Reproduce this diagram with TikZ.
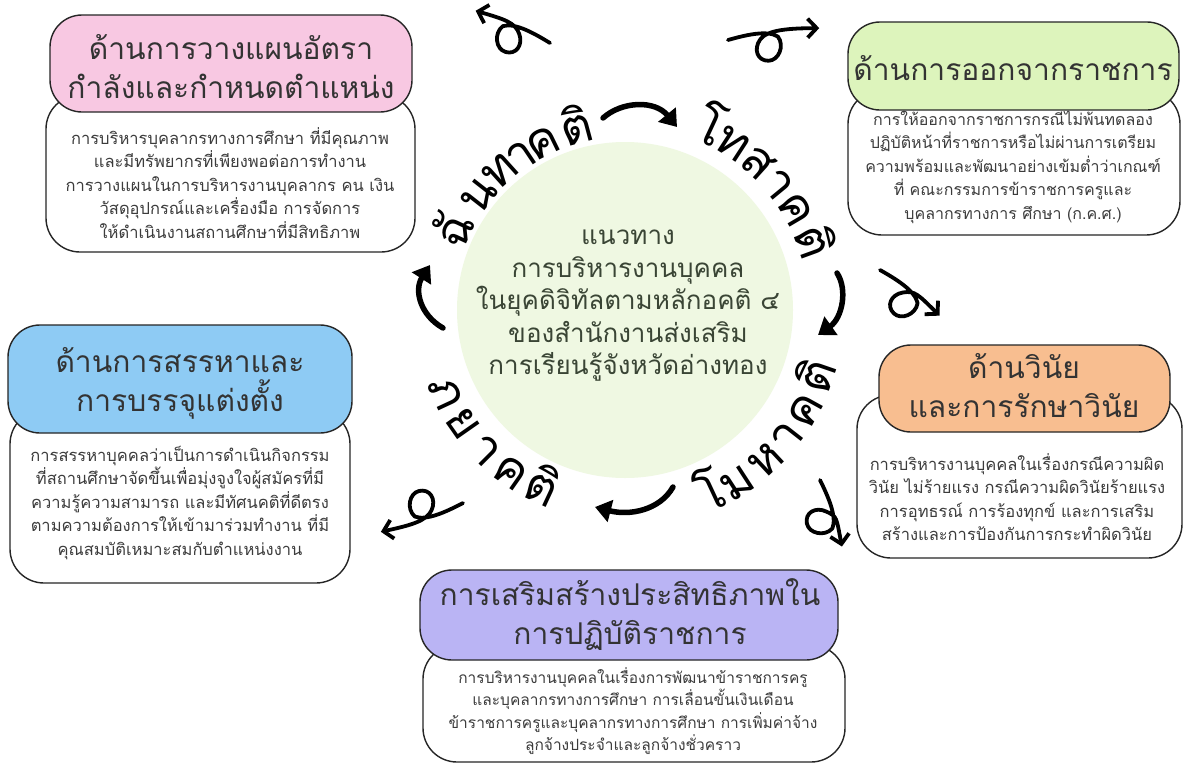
\documentclass[tikz,border=0pt]{standalone}
\usepackage{fontspec}
\setmainfont[Script=Thai]{Loma}
\usetikzlibrary{arrows.meta}
\definecolor{pinkh}{HTML}{F8C8E2}
\definecolor{greenh}{HTML}{DDF4BC}
\definecolor{blueh}{HTML}{8ECBF4}
\definecolor{orangeh}{HTML}{F8BE90}
\definecolor{purpleh}{HTML}{BAB4F4}
\definecolor{centerfill}{HTML}{EFF8E2}
\definecolor{txtc}{HTML}{333333}
\definecolor{btxt}{HTML}{3C3C3C}
\definecolor{ctxt}{HTML}{3A4535}
\tikzset{
  headbox/.style={draw=black!85, line width=1.4pt, rounded corners=32pt, inner sep=0pt},
  bodybox/.style={draw=black!85, fill=white, line width=1.4pt, rounded corners=34pt, inner sep=0pt},
  headtxt/.style={text=txtc, font=\fontsize{30}{39}\selectfont, align=center, inner sep=0pt},
  bodytxt/.style={text=btxt, font=\fontsize{16.5}{23.5}\selectfont, align=center, inner sep=0pt},
  ctrtxt/.style={text=ctxt, font=\fontsize{26}{32.5}\selectfont, align=center, inner sep=0pt},
  lbl/.style={font=\fontsize{49}{49}\selectfont, anchor=base, inner sep=0pt},
  cyc/.style={line width=5.5pt, line cap=round, -{Triangle[length=16pt,width=22pt]}},
  loopar/.style={line width=3.8pt, line cap=round, line join=round, -{Straight Barb[length=9pt,width=19pt]}},
  looparrow/.pic={\draw[loopar] (0,0) .. controls (18,-3) and (40,-6) .. (50,2)
      .. controls (56,12) and (48,26) .. (38,25)
      .. controls (27,24) and (24,12) .. (32,3)
      .. controls (40,-6) and ({#1-30},-5) .. (#1,-2);}
}
\begin{document}
\begin{tikzpicture}[x=1pt,y=-1pt]
\useasboundingbox[fill=white] (0,0) rectangle (1184,769);

% hub circle
\node[circle, fill=centerfill, minimum size=336pt, inner sep=0pt] (hub) at (625,310) {};
\node[ctrtxt] (hubtxt) at (628,306) {แนวทาง\\การบริหารงานบุคคล\\ในยุคดิจิทัลตามหลักอคติ ๔\\ของสำนักงานส่งเสริม\\การเรียนรู้จังหวัดอ่างทอง};

% curved labels
\begin{scope}[shift={(625,310)}, yscale=-1]
  \node[lbl, rotate=65]  (ua1) at (155:172) {ฉั};
  \node[lbl, rotate=52]  (ua2) at (142:172) {น};
  \node[lbl, rotate=42]  (ua3) at (132:172) {ท};
  \node[lbl, rotate=34]  (ua4) at (124:172) {า};
  \node[lbl, rotate=26]  (ua5) at (116:172) {ค};
  \node[lbl, rotate=15]  (ua6) at (105:172) {ติ};
  \node[lbl, rotate=-25] (ub1) at (65:184) {โ};
  \node[lbl, rotate=-33] (ub2) at (57:184) {ท};
  \node[lbl, rotate=-42] (ub3) at (48:184) {ส};
  \node[lbl, rotate=-50.5] (ub4) at (39.5:184) {า};
  \node[lbl, rotate=-59.5] (ub5) at (30.5:184) {ค};
  \node[lbl, rotate=-70] (ub6) at (20:184) {ติ};
  \node[lbl, rotate=25]  (uc1) at (-65:220) {โ};
  \node[lbl, rotate=33]  (uc2) at (-57:220) {ม};
  \node[lbl, rotate=43]  (uc3) at (-47:220) {ห};
  \node[lbl, rotate=52]  (uc4) at (-38:220) {า};
  \node[lbl, rotate=61]  (uc5) at (-29:220) {ค};
  \node[lbl, rotate=71]  (uc6) at (-19:220) {ติ};
  \node[lbl, rotate=295] (ud1) at (205:212) {ภ};
  \node[lbl, rotate=305] (ud2) at (215:212) {ย};
  \node[lbl, rotate=315] (ud3) at (225:212) {า};
  \node[lbl, rotate=325] (ud4) at (235:212) {ค};
  \node[lbl, rotate=335] (ud5) at (245:212) {ติ};
\end{scope}

% cycle arrows
\coordinate (a1s) at (603,118); \coordinate (a1e) at (677,127);
\coordinate (a2s) at (837,273); \coordinate (a2e) at (818,335);
\coordinate (a3s) at (673,487); \coordinate (a3e) at (595,507);
\coordinate (a4s) at (443,328); \coordinate (a4e) at (430,265);
\draw[cyc] (a1s) .. controls (622,101) and (655,100) .. (a1e);
\draw[cyc] (a2s) .. controls (848,290) and (842,318) .. (a2e);
\draw[cyc] (a3s) .. controls (660,510) and (630,516) .. (a3e);
\draw[cyc] (a4s) .. controls (420,315) and (414,290) .. (a4e);

% loop arrows
\coordinate (tltail) at (550,43);
\coordinate (trtail) at (728,40);
\coordinate (rtail) at (880,270);
\coordinate (lrtail) at (820,480);
\coordinate (lltail) at (463,503);
\pic[rotate=158, yscale=-1] at (tltail) {looparrow=81};
\pic[rotate=6.2] at (trtail) {looparrow=92};
\pic[rotate=-39] at (rtail) {looparrow=75};
\pic[rotate=-73.4] at (lrtail) {looparrow=70};
\pic[rotate=-162] at (lltail) {looparrow=87};

% pink box
\node[bodybox, minimum width=369pt, minimum height=157pt] (pinkbody) at (230.5,173.5) {};
\node[headbox, fill=pinkh, minimum width=362pt, minimum height=97pt] (pinkhead) at (231,63.5) {};
\node[headtxt] (pinkht) at (231,67) {ด้านการวางแผนอัตรา\\กำลังและกำหนดตำแหน่ง};
\node[bodytxt] (pinkbt) at (230,183) {การบริหารบุคลากรทางการศึกษา ที่มีคุณภาพ\\และมีทรัพยากรที่เพียงพอต่อการทำงาน\\การวางแผนในการบริหารงานบุคลากร คน เงิน\\วัสดุอุปกรณ์และเครื่องมือ การจัดการ\\ให้ดำเนินงานสถานศึกษาที่มีสิทธิภาพ};

% green box
\node[bodybox, minimum width=332pt, minimum height=145pt] (greenbody) at (1014,162.5) {};
\node[headbox, fill=greenh, minimum width=331pt, minimum height=88pt] (greenhead) at (1013.5,66) {};
\node[headtxt] (greenht) at (1013,68) {ด้านการออกจากราชการ};
\node[bodytxt, font=\fontsize{16}{23.5}\selectfont] (greenbt) at (1013,167) {การให้ออกจากราชการกรณีไม่พ้นทดลอง\\ปฏิบัติหน้าที่ราชการหรือไม่ผ่านการเตรียม\\ความพร้อมและพัฒนาอย่างเข้มต่ำว่าเกณฑ์\\ที่ คณะกรรมการข้าราชการครูและ\\บุคลากรทางการ ศึกษา (ก.ค.ศ.)};

% blue box
\node[bodybox, minimum width=340pt, minimum height=173pt] (bluebody) at (180,496.5) {};
\node[headbox, fill=blueh, minimum width=344pt, minimum height=108pt] (bluehead) at (180,379) {};
\node[headtxt] (blueht) at (180,383) {ด้านการสรรหาและ\\การบรรจุแต่งตั้ง};
\node[bodytxt] (bluebt) at (180,503) {การสรรหาบุคคลว่าเป็นการดำเนินกิจกรรม\\ที่สถานศึกษาจัดขึ้นเพื่อมุ่งจูงใจผู้สมัครที่มี\\ความรู้ความสามารถ และมีทัศนคติที่ดีตรง\\ตามความต้องการให้เข้ามาร่วมทำงาน ที่มี\\คุณสมบัติเหมาะสมกับตำแหน่งงาน};

% orange box
\node[bodybox, minimum width=325pt, minimum height=163pt] (orangebody) at (1019.5,476.5) {};
\node[headbox, fill=orangeh, minimum width=291pt, minimum height=87pt] (orangehead) at (1024.5,388.5) {};
\node[headtxt] (orangeht) at (1024,386) {ด้านวินัย\\และการรักษาวินัย};
\node[bodytxt] (orangebt) at (1017,497) {การบริหารงานบุคคลในเรื่องกรณีความผิด\\วินัย ไม่ร้ายแรง กรณีความผิดวินัยร้ายแรง\\การอุทธรณ์ การร้องทุกข์ และการเสริม\\สร้างและการป้องกันการกระทำผิดวินัย};

% purple box
\node[bodybox, minimum width=422pt, minimum height=117pt] (purplebody) at (634,703.5) {};
\node[headbox, fill=purpleh, minimum width=418pt, minimum height=90pt] (purplehead) at (629,615) {};
\node[headtxt] (purpleht) at (630,615) {การเสริมสร้างประสิทธิภาพใน\\การปฏิบัติราชการ};
\node[bodytxt, font=\fontsize{15.5}{22.6}\selectfont] (purplebt) at (633,711) {การบริหารงานบุคคลในเรื่องการพัฒนาข้าราชการครู\\และบุคลากรทางการศึกษา การเลื่อนขั้นเงินเดือน\\ข้าราชการครูและบุคลากรทางการศึกษา การเพิ่มค่าจ้าง\\ลูกจ้างประจำและลูกจ้างชั่วคราว};
\end{tikzpicture}
\end{document}
